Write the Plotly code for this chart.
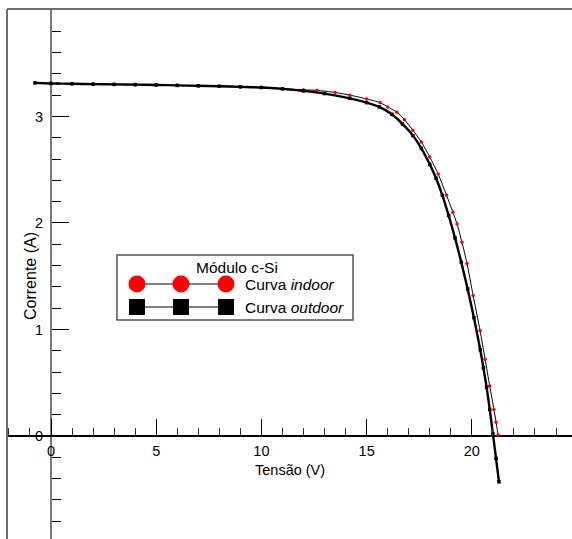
import plotly.graph_objects as go

# ---- data ----
v_outdoor = [-0.76, 0, 1, 2, 3, 4, 5, 6, 7, 8, 9, 10, 11, 12, 13, 14.2, 15, 15.6, 16.2, 16.7,
             17.2, 17.6, 18.0, 18.3, 18.6, 18.9, 19.2, 19.5, 19.8, 20.1, 20.4, 20.55, 20.7,
             20.85, 21.0, 21.15, 21.29]
i_outdoor = [3.315, 3.31, 3.307, 3.304, 3.301, 3.299, 3.296, 3.292, 3.288, 3.284, 3.278, 3.272,
             3.259, 3.24, 3.215, 3.17, 3.13, 3.09, 3.02, 2.93, 2.82, 2.70, 2.55, 2.42, 2.26,
             2.07, 1.86, 1.63, 1.38, 1.11, 0.81, 0.64, 0.46, 0.25, 0.02, -0.21, -0.43]

v_indoor = [0.33, 1, 2, 3, 4, 5, 6, 7, 8, 9, 10, 11, 12, 12.64, 13.5, 14.2, 15.0, 15.64, 16.0,
            16.44, 16.8, 17.2, 17.6, 18.0, 18.4, 18.8, 19.1, 19.3, 19.53, 19.77, 20.06, 20.39,
            20.63, 20.85, 21.05, 21.15, 21.25]
i_indoor = [3.31, 3.307, 3.304, 3.301, 3.298, 3.295, 3.291, 3.287, 3.283, 3.278, 3.272, 3.262,
            3.25, 3.245, 3.225, 3.20, 3.165, 3.13, 3.09, 3.04, 2.97, 2.87, 2.76, 2.62, 2.46,
            2.26, 2.10, 1.99, 1.82, 1.62, 1.32, 0.99, 0.72, 0.47, 0.25, 0.13, 0.01]

x_ticks = [0, 5, 10, 15, 20]
y_ticks = [0, 1, 2, 3]
y_minor = [-0.8, -0.6, -0.4, -0.2, 0.2, 0.4, 0.6, 0.8, 1.2, 1.4, 1.6, 1.8,
           2.2, 2.4, 2.6, 2.8, 3.2, 3.4, 3.6, 3.8]

legend_title = "Módulo c-Si"
legend_labels = ["Curva <i>indoor</i>", "Curva <i>outdoor</i>"]
x_title = "Tensão (V)"
y_title = "Corrente (A)"

# ---- geometry ----
W, H = 572, 539
ML, MT = 7, 9
PW, PH = W - ML, H - MT
x_range = [-2.091, 24.76]
y_range = [-0.967, 4.009]
FONT = "Arial, Liberation Sans, sans-serif"


def px(xp):
    return (xp - ML) / PW


def py(yp):
    return (H - yp) / PH


fig = go.Figure()
fig.add_trace(go.Scatter(x=v_indoor, y=i_indoor, mode="lines+markers",
                         line=dict(color="black", width=1, shape="spline", smoothing=0.6),
                         marker=dict(symbol="circle", size=3.5, color="red"),
                         showlegend=False))
fig.add_trace(go.Scatter(x=v_outdoor, y=i_outdoor, mode="lines+markers",
                         line=dict(color="black", width=2.4, shape="spline", smoothing=0.6),
                         marker=dict(symbol="square", size=3.5, color="black"),
                         showlegend=False))

xpos = -y_range[0] / (y_range[1] - y_range[0])
ypos = -x_range[0] / (x_range[1] - x_range[0])

fig.update_layout(
    width=W, height=H,
    margin=dict(l=ML, r=0, t=MT, b=0),
    paper_bgcolor="white", plot_bgcolor="white",
    font=dict(family=FONT, size=13, color="black"),
    xaxis=dict(range=x_range, anchor="free", position=xpos, showgrid=False,
               zeroline=True, zerolinecolor="#7a7a7a", zerolinewidth=1.6,
               showline=False, tickmode="array", tickvals=x_ticks,
               ticks="inside", ticklen=17, tickwidth=1.3, tickcolor="black",
               ticklabelstandoff=4,
               tickfont=dict(family=FONT, size=14.5, color="black"),
               minor=dict(dtick=1, tick0=0, ticks="inside", ticklen=8,
                          tickwidth=1.2, tickcolor="#333333")),
    yaxis=dict(range=y_range, anchor="free", position=ypos, showgrid=False,
               zeroline=True, zerolinecolor="black", zerolinewidth=1.6,
               showline=False, tickmode="array", tickvals=y_ticks,
               ticks="inside", ticklen=17, tickwidth=1.3, tickcolor="black",
               ticklabelstandoff=8,
               tickfont=dict(family=FONT, size=14.5, color="black"),
               minor=dict(tickmode="array", tickvals=y_minor, ticks="inside",
                          ticklen=9, tickwidth=1.2, tickcolor="black")),
)

shapes = [
    # frame (left & top)
    dict(type="line", xref="paper", yref="paper", x0=0, x1=0, y0=0, y1=1,
         line=dict(color="#6e6e6e", width=2)),
    dict(type="line", xref="paper", yref="paper", x0=0, x1=1, y0=1, y1=1,
         line=dict(color="#6e6e6e", width=2)),
    # legend box
    dict(type="rect", xref="paper", yref="paper", x0=px(117), x1=px(353),
         y0=py(320), y1=py(255), line=dict(color="#555555", width=1.5),
         fillcolor="white", layer="above"),
    # legend sample lines
    dict(type="line", xref="paper", yref="paper", x0=px(137), x1=px(226),
         y0=py(284), y1=py(284), line=dict(color="black", width=1)),
    dict(type="line", xref="paper", yref="paper", x0=px(137), x1=px(226),
         y0=py(307), y1=py(307), line=dict(color="black", width=1)),
]
for cx in [137, 181, 226]:
    shapes.append(dict(type="circle", xref="paper", yref="paper",
                       xsizemode="pixel", ysizemode="pixel",
                       xanchor=px(cx), yanchor=py(284),
                       x0=-8.5, x1=8.5, y0=-8.5, y1=8.5,
                       fillcolor="red", line=dict(color="red", width=0)))
    shapes.append(dict(type="rect", xref="paper", yref="paper",
                       xsizemode="pixel", ysizemode="pixel",
                       xanchor=px(cx), yanchor=py(307),
                       x0=-8, x1=8, y0=-8, y1=8,
                       fillcolor="black", line=dict(color="black", width=0)))
fig.update_layout(shapes=shapes)

LF = 15.5
annotations = [
    dict(text=legend_title, x=px(237), y=py(267), xref="paper", yref="paper",
         showarrow=False, xanchor="center", yanchor="middle",
         font=dict(family=FONT, size=LF, color="black")),
    dict(text=legend_labels[0], x=px(243), y=py(284), xref="paper", yref="paper",
         showarrow=False, xanchor="left", yanchor="middle",
         font=dict(family=FONT, size=LF, color="black")),
    dict(text=legend_labels[1], x=px(243), y=py(307), xref="paper", yref="paper",
         showarrow=False, xanchor="left", yanchor="middle",
         font=dict(family=FONT, size=LF, color="black")),
    dict(text=x_title, x=px(290), y=py(470), xref="paper", yref="paper",
         showarrow=False, xanchor="center", yanchor="middle",
         font=dict(family=FONT, size=14.5, color="black")),
    dict(text=y_title, x=px(30), y=py(276), xref="paper", yref="paper",
         showarrow=False, xanchor="center", yanchor="middle", textangle=-90,
         font=dict(family=FONT, size=16, color="black")),
]
fig.update_layout(annotations=annotations)

fig.write_html("out.html",
               config={"displayModeBar": False},
               post_script="document.body.style.margin='0';"
                           "document.body.style.overflow='hidden';")
